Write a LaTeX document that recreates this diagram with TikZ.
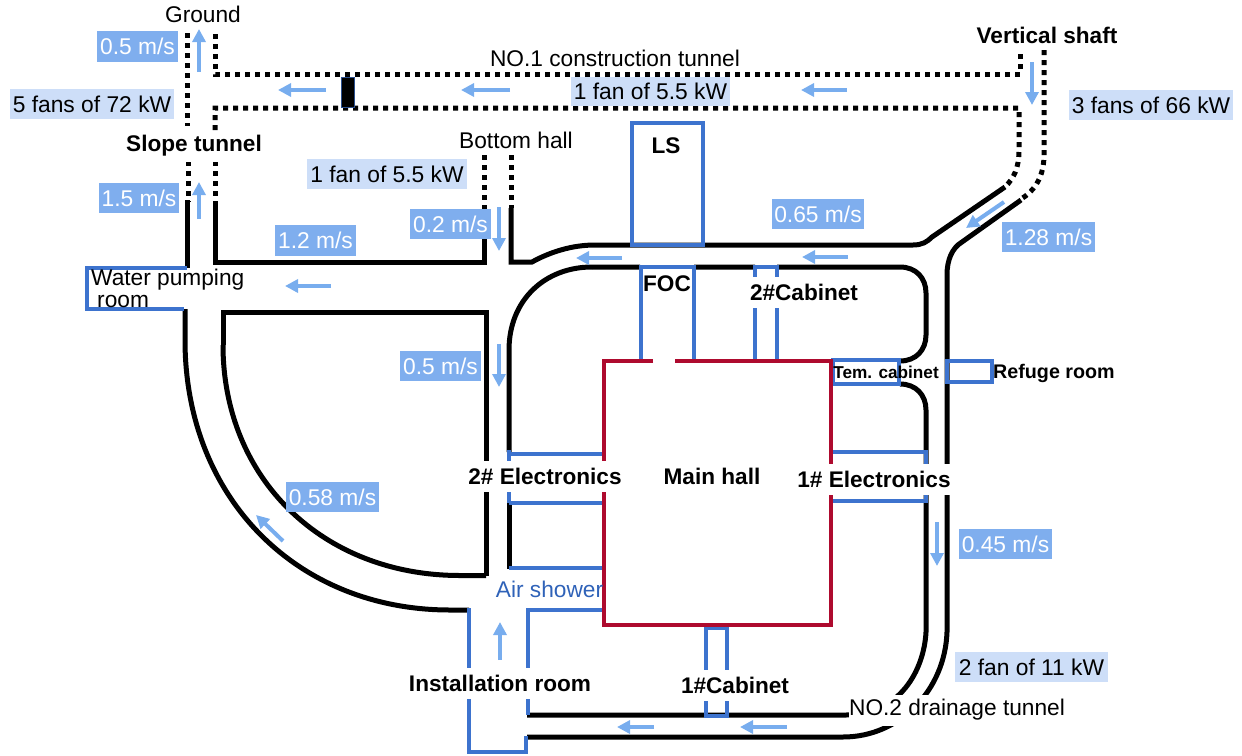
\documentclass[tikz,border=0pt]{standalone}
\usepackage{fontspec}
\setmainfont{Liberation Sans}
\usetikzlibrary{arrows.meta}
\definecolor{tblue}{HTML}{3D73CE}
\definecolor{hallred}{HTML}{AE0A2E}
\definecolor{arrowblue}{HTML}{78ADEE}
\definecolor{darkbox}{HTML}{7FAEEE}
\definecolor{lightbox}{HTML}{CDDEF8}
\definecolor{airtext}{HTML}{2F62B8}
\newcommand{\fs}[1]{\fontsize{#1}{#1}\selectfont}
\tikzset{
  x=1pt,y=-1pt,
  wall/.style={line width=5pt,black},
  dotwall/.style={line width=5pt,black,dash pattern=on 5pt off 5pt},
  bluewall/.style={line width=3.2pt,tblue},
  redwall/.style={line width=3.2pt,hallred},
  flow/.style={line width=4pt,arrowblue,-{Triangle[length=13pt,width=13pt]}},
  speed/.style={fill=darkbox,text=white,inner sep=0pt,minimum width=#1,minimum height=30.5pt,font=\fs{22.8}},
  power/.style={fill=lightbox,text=black,inner sep=0pt,minimum width=#1,minimum height=30.5pt,font=\fs{22.8}},
  plain/.style={inner sep=0pt,font=\fs{22.7}},
  boldknock/.style={fill=white,inner sep=0.5pt,minimum height=31pt,font=\bfseries\fs{22.6}},
  boldtext/.style={inner sep=0pt,font=\bfseries\fs{22.6}},
}
\begin{document}
\begin{tikzpicture}
\useasboundingbox (0,0) rectangle (1242,755);
% dotted sections
\draw[dotwall] (187,33) -- (187,126);
\draw[dotwall] (215,34) -- (215,74) -- (1020,74) -- (1020,52);
\draw[dotwall] (215,130) -- (215,108) -- (1019,108) -- (1019,150) .. controls (1019,168) and (1014,178) .. (1005,187);
\draw[dotwall] (1044,50) -- (1044,155) .. controls (1044,175) and (1036,190) .. (1021,199);
\draw[dotwall] (188,161) -- (188,202);
\draw[dotwall] (215,161) -- (215,206);
\draw[dotwall] (484,155) -- (484,208);
\draw[dotwall] (511,155) -- (511,208);
% solid tunnel walls
\draw[wall] (187,200) -- (187,268);
\draw[wall] (215,206) -- (215,262) -- (484,262) -- (484,208);
\draw[wall] (511,208) -- (511,262) -- (532,262) .. controls (550,252) and (572,245) .. (595,245) -- (913,245)
  .. controls (922,245) and (927,242) .. (932,237) -- (1005,187);
\draw[wall] (1021,200) -- (962,242) .. controls (952,248) and (947,260) .. (947,275) -- (947,632)
  .. controls (945,690) and (900,737) .. (843,737) -- (527,737);
\draw[wall] (592,267) .. controls (545,267) and (509,300) .. (509,350) -- (509,452);
\draw[wall] (509,503) -- (509,569);
\draw[wall] (592,267) -- (640,267) (694,267) -- (755,267) (777,267) -- (900,267)
  .. controls (916,267) and (926,278) .. (926,293) -- (926,335) .. controls (926,350) and (916,361) .. (900,361);
\draw[wall] (900,384) .. controls (916,384) and (926,395) .. (926,410) -- (926,632)
  .. controls (924,670) and (900,715) .. (846,715) -- (527,715);
\draw[wall] (223,345) -- (223,312.5) -- (486,312.5) -- (486,575.5);
\draw[wall] (223,345) .. controls (223,478) and (322,575.5) .. (460,575.5) -- (486,575.5);
\draw[wall] (185,309) -- (185,340) .. controls (185,497) and (296,610) .. (450,610) -- (469,610);
% blue rooms
\draw[bluewall] (187,268) -- (87,268) -- (87,309) -- (184,309);
\draw[bluewall] (632,245) -- (632,123) -- (703,123) -- (703,245) -- cycle;
\draw[bluewall] (641,361) -- (641,267) -- (694,267) -- (694,361);
\draw[bluewall] (755,361) -- (755,267) -- (777,267) -- (777,361);
\draw[bluewall] (509,454) -- (604,454);
\draw[bluewall] (509,503) -- (604,503);
\draw[bluewall] (509,450) -- (509,503);
\draw[bluewall] (509,568) -- (604,568);
\draw[bluewall] (833,452) -- (926,452) (833,501) -- (926,501);
\draw[bluewall] (926,450) -- (926,503);
\draw[bluewall] (833,360) rectangle (899,384);
\draw[bluewall] (947,361) rectangle (992,382);
\draw[bluewall] (469,608) -- (469,752) -- (526,752) -- (526,736);
\draw[bluewall] (602,610) -- (528,610) -- (528,715);
\draw[bluewall] (706,627) -- (706,716) -- (727,716) -- (727,627);
\draw[bluewall] (706,628) -- (727,628);
% main hall
\draw[redwall] (653,361) -- (604,361) -- (604,625) -- (831,625) -- (831,361) -- (675,361);
% fan
\draw[line width=1pt,fill=black,draw=tblue!70!black] (341,77) rectangle (354,107);
% knock-out bold labels
\node[boldknock] (elec2) at (545,476.5) {2\# Electronics};
\node[boldknock] (elec1) at (874,479.5) {1\# Electronics};
\node[boldknock] (cab2) at (804,292.5) {2\#Cabinet};
\node[boldknock] (cab1) at (735,685.5) {1\#Cabinet};
\node[boldknock] (inst) at (500,683.5) {Installation room};
\node[fill=white,inner sep=0.5pt,minimum height=31pt,font=\fs{22.7}] (no2) at (957,710) {NO.2 drainage tunnel};
\node[boldknock] (slope) at (194,146) {Slope tunnel};
% value boxes
\node[speed=81pt] (s1) at (137.5,46.5) {0.5 m/s};
\node[speed=80pt] (s2) at (139,198) {1.5 m/s};
\node[speed=81pt] (s3) at (315.5,240.5) {1.2 m/s};
\node[speed=81pt] (s4) at (450.5,224) {0.2 m/s};
\node[speed=81pt] (s5) at (440.5,366) {0.5 m/s};
\node[speed=92pt] (s6) at (818,214) {0.65 m/s};
\node[speed=93pt] (s7) at (1048.5,237) {1.28 m/s};
\node[speed=93pt] (s8) at (332.5,497) {0.58 m/s};
\node[speed=93pt] (s9) at (1005.5,544) {0.45 m/s};
\node[power=164pt] (p1) at (92,104) {5 fans of 72 kW};
\node[power=159pt,minimum height=29pt] (p2) at (650.5,91) {1 fan of 5.5 kW};
\node[power=160pt] (p3) at (387,174) {1 fan of 5.5 kW};
\node[power=164pt] (p4) at (1151,105) {3 fans of 66 kW};
\node[power=153pt] (p5) at (1031.5,667) {2 fan of 11 kW};
% arrows
\coordinate (a1s) at (199,72);  \coordinate (a1e) at (199,29);
\coordinate (a2s) at (326,90);  \coordinate (a2e) at (278,90);
\coordinate (a3s) at (199,219); \coordinate (a3e) at (199,182);
\coordinate (a4s) at (331,286); \coordinate (a4e) at (285,286);
\coordinate (a5s) at (499,207); \coordinate (a5e) at (499,251);
\coordinate (a6s) at (622,258); \coordinate (a6e) at (576,258);
\coordinate (a7s) at (499,344); \coordinate (a7e) at (499,387);
\coordinate (a8s) at (510,90);  \coordinate (a8e) at (461,90);
\coordinate (a9s) at (847,90);  \coordinate (a9e) at (801,90);
\coordinate (b1s) at (848,257); \coordinate (b1e) at (802,257);
\coordinate (b2s) at (1032,62); \coordinate (b2e) at (1032,105);
\coordinate (b3s) at (1004,202);\coordinate (b3e) at (966,228);
\coordinate (b4s) at (937,522); \coordinate (b4e) at (937,566);
\coordinate (b5s) at (500,660); \coordinate (b5e) at (500,622);
\coordinate (b6s) at (654,727); \coordinate (b6e) at (617,727);
\coordinate (b7s) at (787,727); \coordinate (b7e) at (740,727);
\coordinate (b8s) at (283,541); \coordinate (b8e) at (256,515);
\foreach \k in {a1,a2,a3,a4,a5,a6,a7,a8,a9,b1,b2,b3,b4,b5,b6,b7,b8}
  \draw[flow] (\k s) -- (\k e);
% text labels
\node[plain] (ground) at (203,14) {Ground};
\node[plain] (no1) at (615,58) {NO.1 construction tunnel};
\node[plain] (bottom) at (516,140) {Bottom hall};
\node[boldtext] (vert) at (1047,35) {Vertical shaft};
\node[boldtext] (ls) at (666,146) {LS};
\node[boldtext] (foc) at (667,284) {FOC};
\node[boldtext] (main) at (712,476) {Main hall};
\node[inner sep=0pt,font=\bfseries\fs{17.2}] (tem) at (886,372) {Tem. cabinet};
\node[inner sep=0pt,font=\bfseries\fs{19.7},anchor=west] (ref) at (993,373) {Refuge room};
\node[plain,text=airtext] (air) at (549.5,589) {Air shower};
\node[plain,align=left,anchor=north west] (water) at (91,269) {\fontsize{22.7}{20}\selectfont Water pumping\\[-1pt]\hspace*{6pt}room};
\end{tikzpicture}
\end{document}
